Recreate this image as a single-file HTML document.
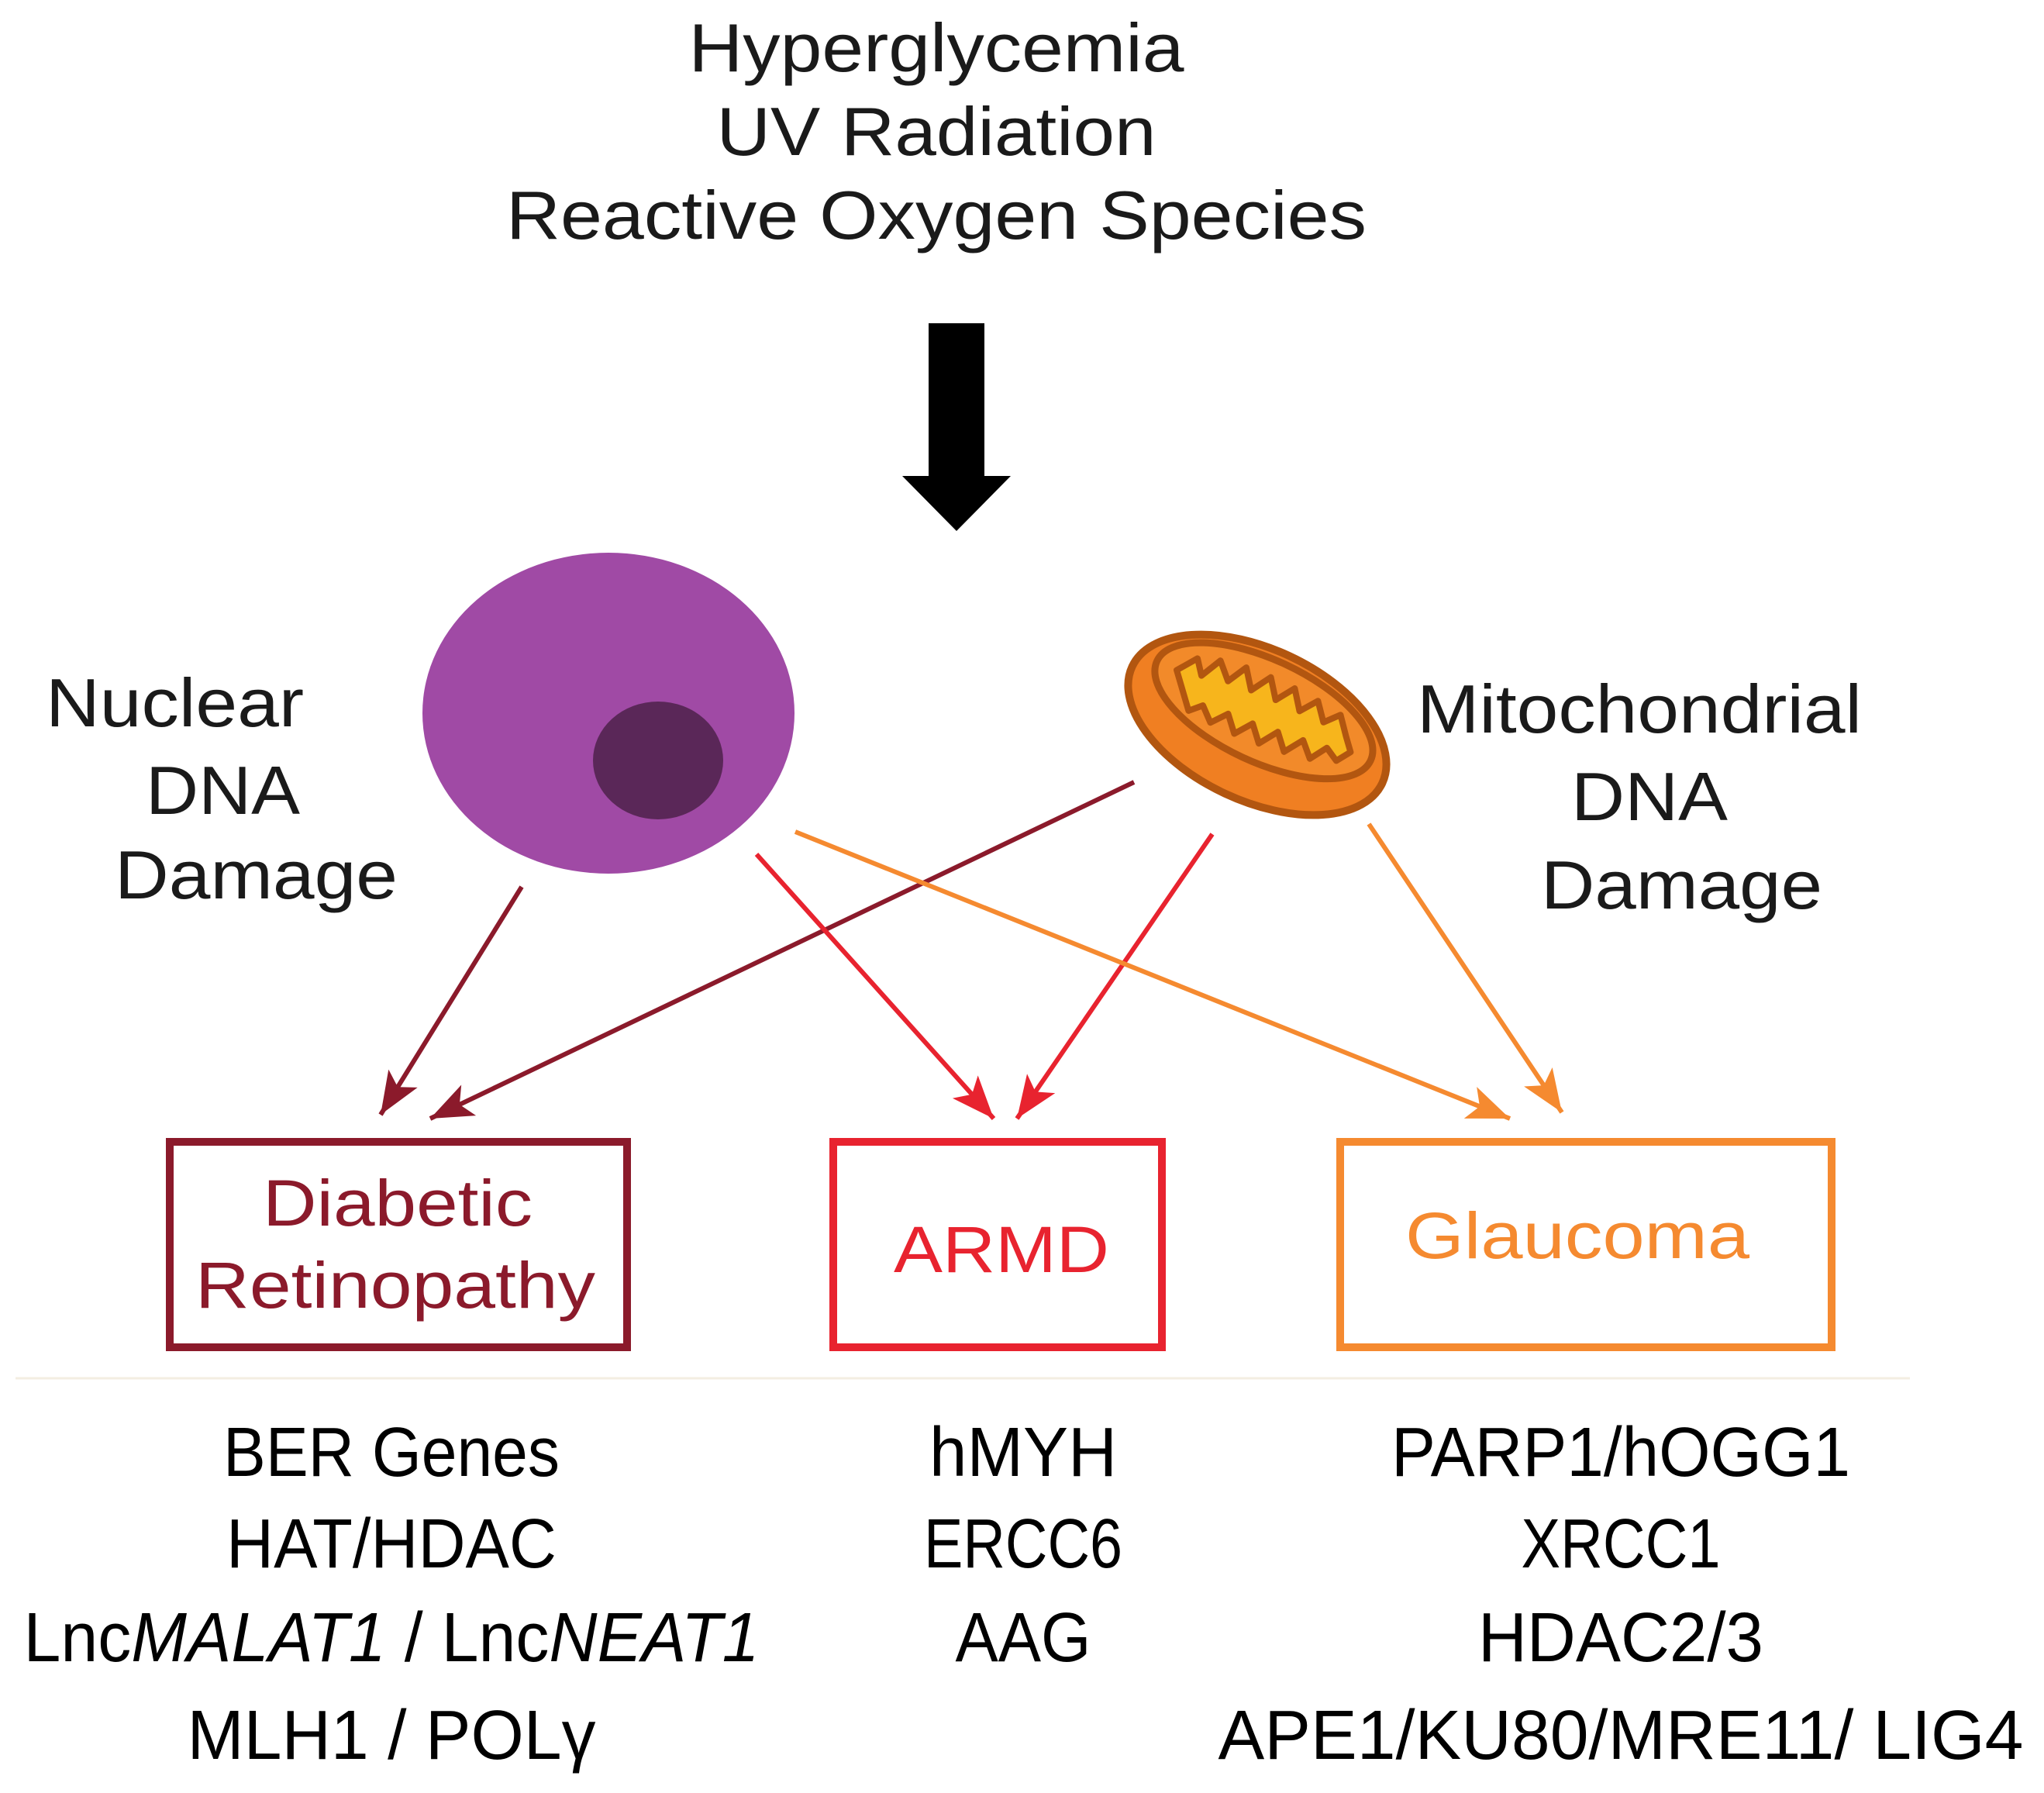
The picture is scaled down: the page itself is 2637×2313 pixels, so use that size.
<!DOCTYPE html>
<html><head><meta charset="utf-8"><style>
html,body{margin:0;padding:0;background:#fff;}
svg{display:block;}
text{font-family:"Liberation Sans",sans-serif;}
</style></head><body>
<svg width="2637" height="2313" viewBox="0 0 2637 2313" xmlns="http://www.w3.org/2000/svg">
<defs>
<marker id="mdr" markerWidth="10" markerHeight="10" refX="8" refY="5" orient="auto" markerUnits="userSpaceOnUse" viewBox="0 0 10 10"><path d="M0,0 L10,5 L0,10 L3,5 z" fill="#8b1a2b"/></marker>
</defs>
<rect width="2637" height="2313" fill="#fff"/>
<g fill="#1a1a1a" font-size="88" text-anchor="middle">
<text x="1208" y="92" textLength="639" lengthAdjust="spacingAndGlyphs">Hyperglycemia</text>
<text x="1208" y="200" textLength="567" lengthAdjust="spacingAndGlyphs">UV Radiation</text>
<text x="1208" y="308" textLength="1110" lengthAdjust="spacingAndGlyphs">Reactive Oxygen Species</text>
</g>
<path d="M1198,417 H1270 V614 H1304 L1234,685 L1164,614 H1198 Z" fill="#000"/>
<ellipse cx="785" cy="920" rx="240" ry="207" fill="#a04aa5"/>
<ellipse cx="849" cy="981" rx="84" ry="76" fill="#5a2758"/>
<g transform="rotate(25 1622 935)">
<ellipse cx="1622" cy="935" rx="178" ry="98" fill="#f07f22" stroke="#b25610" stroke-width="10"/>
<ellipse cx="1622" cy="915" rx="152" ry="66" fill="#f28a2a" stroke="#b25610" stroke-width="9"/>
<path d="M1498,915 l18,-25 l14,18 l14,-28 l20,20 l14,-26 l18,24 l16,-26 l18,24 l16,-24 l18,24 l16,-22 l18,22 l16,-18 l18,22 l14,16 l-12,18 l-18,-10 l-14,22 l-18,-18 l-16,24 l-18,-20 l-16,24 l-18,-20 l-16,22 l-18,-20 l-16,20 l-18,-16 l-14,14 z" fill="#f7b51c" stroke="#b25610" stroke-width="8" stroke-linejoin="round"/>
</g>
<g fill="#1a1a1a" font-size="88">
<text x="59" y="937" textLength="333" lengthAdjust="spacingAndGlyphs">Nuclear</text>
<text x="188" y="1050" textLength="199" lengthAdjust="spacingAndGlyphs">DNA</text>
<text x="148" y="1159" textLength="365" lengthAdjust="spacingAndGlyphs">Damage</text>
<text x="1828" y="945" textLength="574" lengthAdjust="spacingAndGlyphs">Mitochondrial</text>
<text x="2027" y="1058" textLength="202" lengthAdjust="spacingAndGlyphs">DNA</text>
<text x="1988" y="1172" textLength="363" lengthAdjust="spacingAndGlyphs">Damage</text>
</g>
<g stroke-width="6" fill="none">
<line x1="673" y1="1144" x2="491" y2="1438" stroke="#8b1a2b"/>
<line x1="1463" y1="1009" x2="555" y2="1443" stroke="#8b1a2b"/>
<line x1="976" y1="1102" x2="1282" y2="1443" stroke="#e8232f"/>
<line x1="1564" y1="1076" x2="1312" y2="1443" stroke="#e8232f"/>
<line x1="1026" y1="1073" x2="1948" y2="1443" stroke="#f58a30"/>
<line x1="1766" y1="1063" x2="2015" y2="1435" stroke="#f58a30"/>
</g>
<g>
<path d="M0,0 L-55,-22 L-42,0 L-55,22 Z" fill="#8b1a2b" transform="translate(491,1438) rotate(121.8)"/>
<path d="M0,0 L-55,-22 L-42,0 L-55,22 Z" fill="#8b1a2b" transform="translate(555,1443) rotate(154.5)"/>
<path d="M0,0 L-55,-22 L-42,0 L-55,22 Z" fill="#e8232f" transform="translate(1282,1443) rotate(48.1)"/>
<path d="M0,0 L-55,-22 L-42,0 L-55,22 Z" fill="#e8232f" transform="translate(1312,1443) rotate(124.5)"/>
<path d="M0,0 L-55,-22 L-42,0 L-55,22 Z" fill="#f58a30" transform="translate(1948,1443) rotate(21.9)"/>
<path d="M0,0 L-55,-22 L-42,0 L-55,22 Z" fill="#f58a30" transform="translate(2015,1435) rotate(56.2)"/>
</g>
<rect x="219" y="1473" width="590" height="265" fill="none" stroke="#8b1a2b" stroke-width="10"/>
<rect x="1075" y="1473" width="424" height="265" fill="none" stroke="#e8232f" stroke-width="10"/>
<rect x="1729" y="1473" width="634" height="265" fill="none" stroke="#f58a30" stroke-width="10"/>
<g font-size="84" text-anchor="middle">
<text x="513" y="1581" fill="#8b1a2b" textLength="348" lengthAdjust="spacingAndGlyphs">Diabetic</text>
<text x="510" y="1687" fill="#8b1a2b" textLength="516" lengthAdjust="spacingAndGlyphs">Retinopathy</text>
<text x="1292" y="1641" fill="#e8232f" textLength="278" lengthAdjust="spacingAndGlyphs">ARMD</text>
<text x="2035" y="1623" fill="#f58a30" textLength="444" lengthAdjust="spacingAndGlyphs">Glaucoma</text>
</g>
<line x1="20" y1="1778" x2="2464" y2="1778" stroke="#f3eee2" stroke-width="3"/>
<g fill="#000" font-size="90" text-anchor="middle">
<text x="505" y="1904" textLength="434" lengthAdjust="spacingAndGlyphs">BER Genes</text>
<text x="505" y="2022" textLength="426" lengthAdjust="spacingAndGlyphs">HAT/HDAC</text>
<text x="505" y="2143" textLength="949" lengthAdjust="spacingAndGlyphs">Lnc<tspan font-style="italic">MALAT1</tspan> / Lnc<tspan font-style="italic">NEAT1</tspan></text>
<text x="505" y="2269" textLength="527" lengthAdjust="spacingAndGlyphs">MLH1 / POLγ</text>
<text x="1320" y="1904" textLength="242" lengthAdjust="spacingAndGlyphs">hMYH</text>
<text x="1320" y="2022" textLength="256" lengthAdjust="spacingAndGlyphs">ERCC6</text>
<text x="1320" y="2143" textLength="175" lengthAdjust="spacingAndGlyphs">AAG</text>
<text x="2091" y="1904" textLength="592" lengthAdjust="spacingAndGlyphs">PARP1/hOGG1</text>
<text x="2091" y="2022" textLength="257" lengthAdjust="spacingAndGlyphs">XRCC1</text>
<text x="2091" y="2143" textLength="368" lengthAdjust="spacingAndGlyphs">HDAC2/3</text>
<text x="2091" y="2269" textLength="1039" lengthAdjust="spacingAndGlyphs">APE1/KU80/MRE11/ LIG4</text>
</g>
</svg>
</body></html>
